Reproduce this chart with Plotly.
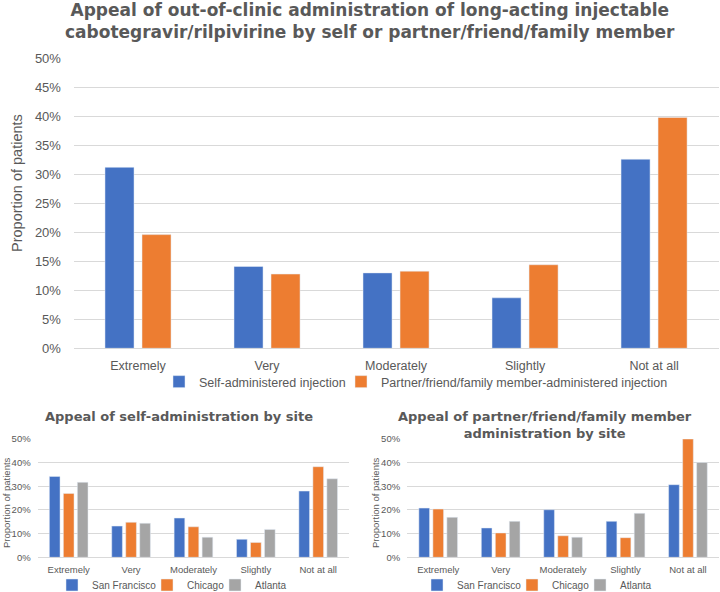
import plotly.graph_objects as go

categories = ["Extremely", "Very", "Moderately", "Slightly", "Not at all"]
ytick_vals_main = [0, 0.05, 0.10, 0.15, 0.20, 0.25, 0.30, 0.35, 0.40, 0.45, 0.50]
ytick_vals_small = [0, 0.10, 0.20, 0.30, 0.40, 0.50]

# Main chart (overall)
self_administered = [0.312, 0.141, 0.130, 0.087, 0.326]
partner_administered = [0.196, 0.128, 0.133, 0.144, 0.398]

# Self-administration by site
self_san_francisco = [0.342, 0.132, 0.166, 0.076, 0.280]
self_chicago = [0.270, 0.148, 0.129, 0.063, 0.383]
self_atlanta = [0.317, 0.144, 0.085, 0.118, 0.332]

# Partner/friend/family member administration by site
partner_san_francisco = [0.208, 0.124, 0.201, 0.152, 0.307]
partner_chicago = [0.204, 0.103, 0.091, 0.083, 0.500]
partner_atlanta = [0.169, 0.152, 0.085, 0.186, 0.401]

BLUE = "#4472C4"
ORANGE = "#ED7D31"
GRAY = "#A5A5A5"
TEXT = "#595959"
GRID = "#D9D9D9"
FONT = "Liberation Sans, Arial, sans-serif"
TITLE_FONT = "DejaVu Sans, sans-serif"

fig = go.Figure()

# legend entry text start positions (px) and legend row centres (px)
main_leg_x = [199, 381]
left_leg_x = [92, 187, 255]
right_leg_x = [457, 552, 620]
TEXT_GAP = 40

legends = {}

def add_legend(key, text_x, y_px, size):
    legends[key] = dict(orientation="h", x=(text_x - TEXT_GAP) / 720, xanchor="left",
                        y=1 - y_px / 592, yanchor="middle",
                        font=dict(family=FONT, size=size, color=TEXT), itemwidth=30,
                        bgcolor="rgba(0,0,0,0)", borderwidth=0)

# main chart
main_specs = [(self_administered, "Self-administered injection", BLUE, -0.256),
              (partner_administered, "Partner/friend/family member-administered injection",
               ORANGE, 0.031)]
for i, (vals, nm, col, off) in enumerate(main_specs):
    key = "legend" if i == 0 else f"legend{i + 1}"
    fig.add_trace(go.Bar(x=categories, y=vals, name=nm, marker_color=col,
                         width=0.225, offset=off, xaxis="x", yaxis="y", legend=key))
    add_legend(key, main_leg_x[i], 382, 12.5)

small_w = 0.171
small_offsets = [-0.31, -0.0855, 0.1385]
site_names = ["San Francisco", "Chicago", "Atlanta"]
site_colors = [BLUE, ORANGE, GRAY]

n = 3
for vals, nm, col, off, lx in zip([self_san_francisco, self_chicago, self_atlanta],
                                  site_names, site_colors, small_offsets, left_leg_x):
    key = f"legend{n}"
    fig.add_trace(go.Bar(x=categories, y=vals, name=nm, marker_color=col,
                         width=small_w, offset=off, xaxis="x2", yaxis="y2", legend=key))
    add_legend(key, lx, 585, 10)
    n += 1

for vals, nm, col, off, lx in zip([partner_san_francisco, partner_chicago, partner_atlanta],
                                  site_names, site_colors, small_offsets, right_leg_x):
    key = f"legend{n}"
    fig.add_trace(go.Bar(x=categories, y=vals, name=nm, marker_color=col,
                         width=small_w, offset=off, xaxis="x3", yaxis="y3", legend=key))
    add_legend(key, lx, 585, 10)
    n += 1

def xax(domain, anchor, size, ticklen):
    return dict(domain=domain, anchor=anchor, type="category", range=[-0.5, 4.5],
                showgrid=False, showline=False, zeroline=False,
                ticks="outside", ticklen=ticklen, tickcolor="rgba(0,0,0,0)",
                tickfont=dict(family=FONT, size=size, color=TEXT), fixedrange=True)

def yax(domain, anchor, size, tickvals, ticklen):
    return dict(domain=domain, anchor=anchor, range=[0, 0.5], tickvals=tickvals,
                tickformat=".0%", showgrid=True, gridcolor=GRID, gridwidth=1,
                zeroline=True, zerolinecolor=GRID, zerolinewidth=1, showline=False,
                ticks="outside", ticklen=ticklen, tickcolor="rgba(0,0,0,0)",
                tickfont=dict(family=FONT, size=size, color=TEXT), fixedrange=True)

fig.update_layout(
    width=720, height=592,
    margin=dict(l=0, r=0, t=0, b=0, autoexpand=False),
    paper_bgcolor="white", plot_bgcolor="white",
    barmode="overlay",
    xaxis=xax([0.1021, 0.998], "y", 12.5, 6),
    yaxis=yax([0.4117, 0.9015], "x", 13, ytick_vals_main, 9),
    xaxis2=xax([0.0521, 0.4853], "y2", 9.5, 3),
    yaxis2=yax([0.0586, 0.2584], "x2", 9.5, ytick_vals_small, 4),
    xaxis3=xax([0.5653, 0.9989], "y3", 9.5, 3),
    yaxis3=yax([0.0586, 0.2584], "x3", 9.5, ytick_vals_small, 4),
    showlegend=True,
    **legends,
)

annotations = [
    dict(text="<b>Appeal of out-of-clinic administration of long-acting injectable<br>"
              "cabotegravir/rilpivirine by self or partner/friend/family member</b>",
         x=0.514, y=1 - 20.5 / 592, xref="paper", yref="paper", showarrow=False,
         xanchor="center", yanchor="middle",
         font=dict(family=TITLE_FONT, size=17, color=TEXT)),
    dict(text="<b>Appeal of self-administration by site</b>",
         x=0.249, y=1 - 416 / 592, xref="paper", yref="paper", showarrow=False,
         xanchor="center", yanchor="middle",
         font=dict(family=TITLE_FONT, size=13, color=TEXT)),
    dict(text="<b>Appeal of partner/friend/family member<br>administration by site</b>",
         x=0.757, y=1 - 424.5 / 592, xref="paper", yref="paper", showarrow=False,
         xanchor="center", yanchor="middle",
         font=dict(family=TITLE_FONT, size=13, color=TEXT)),
    dict(text="Proportion of patients", textangle=-90,
         x=17 / 720, y=1 - 183 / 592, xref="paper", yref="paper", showarrow=False,
         xanchor="center", yanchor="middle",
         font=dict(family=FONT, size=14.5, color=TEXT)),
    dict(text="Proportion of patients", textangle=-90,
         x=6 / 720, y=1 - 503 / 592, xref="paper", yref="paper", showarrow=False,
         xanchor="center", yanchor="middle",
         font=dict(family=FONT, size=9.5, color=TEXT)),
    dict(text="Proportion of patients", textangle=-90,
         x=375 / 720, y=1 - 503 / 592, xref="paper", yref="paper", showarrow=False,
         xanchor="center", yanchor="middle",
         font=dict(family=FONT, size=9.5, color=TEXT)),
]
fig.update_layout(annotations=annotations)

fig.write_html(
    "out.html",
    config={"displayModeBar": False},
    post_script="document.body.style.margin='0';document.body.style.overflow='hidden';",
)
